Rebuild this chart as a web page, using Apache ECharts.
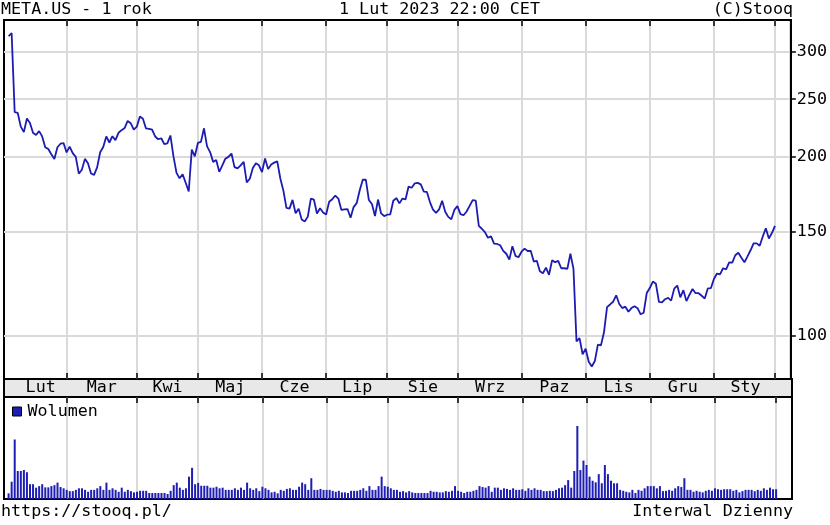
<!DOCTYPE html>
<html>
<head>
<meta charset="utf-8">
<script src="https://cdn.jsdelivr.net/npm/echarts@6/dist/echarts.min.js"></script>
<style>
  html, body { margin: 0; padding: 0; background: #fff; }
  #chart { width: 830px; height: 525px; }
</style>
</head>
<body>
<div id="chart"></div>
<script>
// miesiace na osi, ostatni (1 Lut 2023) ma jedna sesje i nie ma etykiety
const monthNames = ['Lut', 'Mar', 'Kwi', 'Maj', 'Cze', 'Lip', 'Sie', 'Wrz', 'Paz', 'Lis', 'Gru', 'Sty', ''];
const sessionsPerMonth = [19, 23, 20, 21, 21, 20, 23, 21, 21, 21, 21, 20, 1];

// kurs zamkniecia META.US, sesja po sesji (02.2022 - 01.02.2023)
const close = [
  319.00, 323.00, 237.76, 237.09, 224.91, 220.18, 232.00, 228.07, 219.55, 217.70, 221.00, 216.54, 207.71, 206.16, 202.08, 198.45, 207.60, 210.48, 211.03,
  203.49, 208.11, 202.97, 200.06, 187.47, 190.29, 198.50, 195.21, 187.61, 186.63, 192.03, 203.63, 207.84, 216.49, 211.49, 216.65, 213.46, 219.57, 221.82, 223.59, 229.86, 227.85, 222.36,
  224.85, 233.89, 231.83, 223.30, 222.95, 222.33, 216.46, 214.14, 214.99, 210.18, 210.77, 217.31, 200.42, 188.07, 184.11, 186.99, 180.95, 174.95, 205.73, 200.47,
  211.13, 212.03, 223.41, 208.28, 203.77, 196.21, 197.65, 188.74, 193.54, 198.62, 200.04, 202.62, 192.24, 191.29, 193.54, 196.23, 181.28, 183.83, 191.63, 195.13, 193.64,
  188.64, 198.86, 190.78, 194.25, 195.65, 196.64, 184.00, 175.57, 164.26, 163.73, 169.35, 160.87, 163.74, 157.05, 155.85, 158.75, 170.16, 169.49, 160.68, 163.94, 161.25,
  160.03, 168.19, 169.77, 172.19, 170.25, 162.88, 163.27, 163.49, 158.05, 164.70, 167.23, 175.78, 183.09, 183.17, 169.27, 166.65, 159.15, 169.58, 160.72, 159.10,
  159.93, 160.19, 168.80, 170.57, 167.11, 170.25, 169.67, 178.34, 177.49, 180.50, 180.89, 179.89, 174.85, 174.66, 167.96, 163.05, 161.11, 163.26, 168.78, 161.78, 158.58, 157.16, 162.93,
  165.36, 160.32, 159.60, 161.90, 165.50, 169.20, 168.90, 153.13, 151.47, 149.55, 146.29, 147.07, 143.02, 142.82, 142.12, 139.07, 137.51, 134.40, 141.61, 136.41, 135.68,
  138.61, 140.28, 138.98, 139.07, 133.45, 133.79, 128.54, 127.50, 130.29, 126.76, 134.04, 133.04, 133.79, 130.01, 130.01, 129.72, 137.51, 129.82, 97.94, 99.20, 93.16,
  95.20, 90.54, 88.91, 90.79, 96.72, 96.47, 101.47, 111.87, 113.02, 114.22, 117.08, 113.23, 111.45, 112.05, 109.86, 111.44, 112.24, 111.41, 108.78, 109.46, 118.10,
  120.44, 123.49, 122.43, 114.12, 113.93, 115.33, 115.90, 114.71, 120.15, 121.59, 116.15, 119.43, 114.48, 117.36, 119.97, 118.04, 118.04, 116.88, 115.62, 120.26, 120.34,
  124.74, 127.37, 126.94, 130.02, 129.47, 132.99, 132.89, 136.71, 138.07, 135.36, 133.02, 136.15, 139.37, 143.15, 143.16, 141.86, 147.00, 151.74, 145.90, 148.97,
  153.12
];

// wolumen w mln sztuk
const volume = [
  18, 55, 189, 89, 89, 92, 85, 47, 47, 36, 41, 47, 37, 37, 41, 44, 52, 38, 34,
  29, 25, 25, 29, 34, 34, 29, 23, 29, 29, 34, 41, 29, 52, 29, 34, 29, 23, 36, 23, 29, 25, 21,
  23, 26, 26, 26, 19, 19, 19, 19, 19, 19, 16, 26, 44, 52, 36, 29, 34, 71, 99, 47,
  51, 42, 42, 42, 36, 36, 39, 34, 36, 29, 29, 29, 34, 29, 36, 29, 52, 34, 29, 34, 25,
  39, 34, 29, 21, 23, 18, 29, 26, 32, 34, 29, 29, 39, 52, 47, 29, 66, 29, 29, 32, 29,
  29, 29, 26, 23, 26, 21, 21, 19, 26, 26, 26, 29, 34, 26, 41, 29, 29, 41, 71, 41,
  39, 34, 29, 29, 23, 25, 21, 25, 21, 19, 19, 19, 19, 19, 26, 23, 23, 21, 21, 25, 23, 26, 41,
  26, 23, 19, 23, 23, 26, 29, 41, 38, 36, 41, 23, 36, 36, 29, 34, 32, 29, 34, 29, 29,
  31, 26, 34, 29, 34, 29, 29, 25, 25, 26, 25, 29, 34, 36, 44, 60, 36, 89, 232, 92, 122,
  108, 71, 58, 53, 79, 50, 108, 79, 58, 50, 50, 29, 26, 23, 21, 29, 19, 29, 26, 34, 41,
  41, 41, 34, 41, 25, 26, 29, 26, 34, 41, 38, 66, 29, 29, 23, 26, 23, 21, 26, 29, 26,
  34, 31, 29, 31, 31, 31, 26, 29, 21, 25, 29, 29, 29, 25, 29, 26, 34, 29, 36, 31,
  31
];

const priceTicks = [100, 150, 200, 250, 300];

const FONT = 'DejaVu Sans Mono';
const FONT_SIZE = 16.7;
const GRID_LINE = '#dadada';

// pierwsza sesja kazdego miesiaca -> pionowe linie siatki (bez pierwszego, lewa krawedz)
const monthStarts = [];
let acc = 0;
sessionsPerMonth.forEach(n => { monthStarts.push(acc); acc += n; });
const monthLines = monthStarts.slice(1);

// etykiety miesiecy na srodku miesiaca (pierwszy miesiac zaczyna sie przed wykresem)
const labelAt = {};
for (let k = 0; k < monthNames.length - 1; k++) {
  const mid = (monthStarts[k] + monthStarts[k + 1]) / 2 + (k === 0 ? 1 : 0);
  labelAt[mid] = monthNames[k];
}
const labelValues = Object.keys(labelAt).map(Number);

const chart = echarts.init(document.getElementById('chart'));

const xBase = (gridIndex, position) => ({
  type: 'value',
  gridIndex: gridIndex,
  position: position,
  min: -1.5,
  max: 256.2,
  axisLine: { show: false, onZero: false },
  axisLabel: { show: false },
  axisTick: { show: false },
  splitLine: { show: false }
});

const monthTicks = {
  show: true,
  inside: true,
  length: 6,
  customValues: monthLines,
  lineStyle: { color: '#000', width: 1.5 }
};

const gridLines = { show: true, lineStyle: { color: GRID_LINE, width: 2 } };

const textStyle = { fontFamily: FONT, fontSize: FONT_SIZE, fontWeight: 'normal', color: '#000' };

chart.setOption({
  animation: false,
  backgroundColor: '#fff',
  title: [
    { text: 'META.US - 1 rok', left: 1, top: 1, padding: 0, textStyle },
    { text: '1 Lut 2023 22:00 CET', left: 339, top: 1, padding: 0, textStyle },
    { text: '(C)Stooq', right: 37, top: 1, padding: 0, textStyle },
    { text: 'https://stooq.pl/', left: 1, top: 503, padding: 0, textStyle },
    { text: 'Interwal Dzienny', right: 37, top: 503, padding: 0, textStyle }
  ],
  legend: {
    data: ['Wolumen'],
    left: 12,
    top: 403,
    padding: 0,
    icon: 'rect',
    itemWidth: 9,
    itemHeight: 9,
    itemStyle: { borderColor: '#000', borderWidth: 1 },
    textStyle: { fontFamily: FONT, fontSize: FONT_SIZE, color: '#000', padding: [0, 0, 0, 1] }
  },
  grid: [
    { left: 4, right: 38, top: 20, height: 359, show: true, borderColor: '#000', borderWidth: 2, backgroundColor: 'transparent' },
    { left: 4, right: 38, top: 379, height: 18, show: true, borderColor: '#000', borderWidth: 2, backgroundColor: '#e8e8e8' },
    { left: 4, right: 38, top: 397, height: 102, show: true, borderColor: '#000', borderWidth: 2, backgroundColor: 'transparent' }
  ],
  xAxis: [
    Object.assign(xBase(0, 'bottom'), { axisTick: monthTicks, splitLine: gridLines }),
    Object.assign(xBase(0, 'top'), { axisTick: monthTicks }),
    Object.assign(xBase(1, 'bottom'), {
      axisLabel: {
        show: true,
        inside: true,
        margin: 1,
        customValues: labelValues,
        formatter: v => labelAt[v] || '',
        fontFamily: FONT,
        fontSize: FONT_SIZE,
        color: '#000'
      }
    }),
    Object.assign(xBase(2, 'top'), { axisTick: monthTicks, splitLine: gridLines })
  ],
  yAxis: [
    {
      type: 'log',
      gridIndex: 0,
      position: 'right',
      min: 84.7,
      max: 339.7,
      axisLine: { show: true, onZero: false, lineStyle: { color: '#000', width: 2 } },
      axisTick: { show: true, inside: false, length: 5, customValues: priceTicks, lineStyle: { color: '#000', width: 1.5 } },
      axisLabel: {
        customValues: priceTicks,
        formatter: v => String(Math.round(v)),
        margin: 6,
        fontFamily: FONT,
        fontSize: FONT_SIZE,
        color: '#000'
      },
      splitLine: gridLines
    },
    { type: 'value', gridIndex: 1, min: 0, max: 1, show: false },
    { type: 'value', gridIndex: 2, min: 0, max: 324, show: false }
  ],
  series: [
    {
      name: 'META.US',
      type: 'line',
      xAxisIndex: 0,
      yAxisIndex: 0,
      data: close.map((v, i) => [i, v]),
      symbol: 'none',
      lineStyle: { color: '#1c1cb2', width: 1.8 },
      z: 5
    },
    {
      name: 'Wolumen',
      type: 'bar',
      xAxisIndex: 3,
      yAxisIndex: 2,
      data: volume.map((v, i) => [i, v]),
      barWidth: 2,
      itemStyle: { color: '#1e1eb4' }
    }
  ]
});
</script>
</body>
</html>
